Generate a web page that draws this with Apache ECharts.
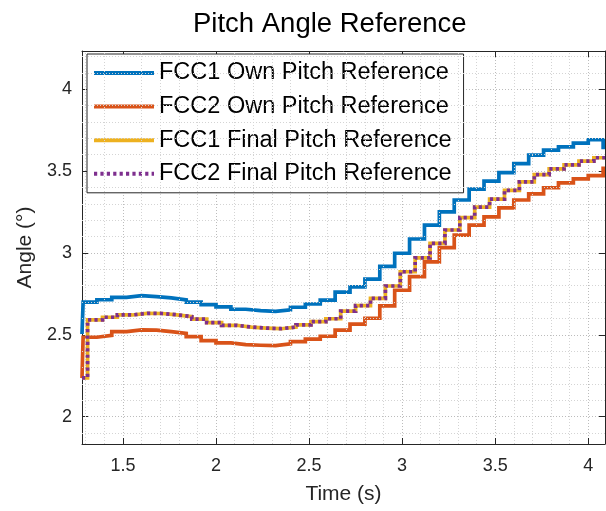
<!DOCTYPE html>
<html>
<head>
<meta charset="utf-8">
<script src="https://cdn.jsdelivr.net/npm/echarts@6/dist/echarts.min.js"></script>
<style>
html,body{margin:0;padding:0;background:#fff;}
#c{width:606px;height:511px;}
</style>
</head>
<body>
<div id="c"></div>
<script>
// ---- data ----
const ownTimes = [1.28, 1.286, 1.36, 1.44, 1.52, 1.60, 1.68, 1.76, 1.84, 1.92, 2.00, 2.08, 2.16, 2.24, 2.32, 2.40, 2.48, 2.56, 2.64, 2.72, 2.80, 2.88, 2.96, 3.04, 3.12, 3.20, 3.28, 3.36, 3.44, 3.52, 3.60, 3.68, 3.76, 3.84, 3.92, 4.00, 4.08, 4.09];
const fcc1OwnPitch = [2.505, 2.700, 2.714, 2.729, 2.739, 2.733, 2.725, 2.713, 2.700, 2.684, 2.670, 2.656, 2.647, 2.643, 2.652, 2.668, 2.688, 2.712, 2.760, 2.792, 2.840, 2.918, 2.998, 3.085, 3.170, 3.250, 3.323, 3.390, 3.438, 3.490, 3.545, 3.597, 3.628, 3.648, 3.671, 3.691, 3.645, 3.645];
const fcc2OwnPitch = [2.235, 2.485, 2.497, 2.519, 2.530, 2.528, 2.519, 2.509, 2.489, 2.464, 2.450, 2.440, 2.436, 2.434, 2.444, 2.458, 2.473, 2.491, 2.528, 2.565, 2.601, 2.676, 2.772, 2.855, 2.945, 3.032, 3.109, 3.170, 3.220, 3.275, 3.323, 3.360, 3.398, 3.428, 3.452, 3.472, 3.516, 3.516];
const finalTimes = [1.28, 1.31, 1.39, 1.47, 1.55, 1.63, 1.71, 1.79, 1.87, 1.95, 2.03, 2.11, 2.19, 2.27, 2.35, 2.43, 2.51, 2.59, 2.67, 2.75, 2.83, 2.91, 2.99, 3.07, 3.15, 3.23, 3.31, 3.39, 3.47, 3.55, 3.63, 3.71, 3.79, 3.87, 3.95, 4.03, 4.09];
const fcc1FinalPitch = [2.237, 2.591, 2.607, 2.621, 2.631, 2.630, 2.622, 2.611, 2.595, 2.574, 2.558, 2.547, 2.541, 2.537, 2.547, 2.561, 2.580, 2.598, 2.644, 2.678, 2.722, 2.798, 2.885, 2.970, 3.058, 3.140, 3.216, 3.280, 3.329, 3.382, 3.434, 3.478, 3.513, 3.538, 3.561, 3.581, 3.581];
const fcc2FinalPitch = [2.237, 2.591, 2.607, 2.621, 2.631, 2.630, 2.622, 2.611, 2.595, 2.574, 2.558, 2.547, 2.541, 2.537, 2.547, 2.561, 2.580, 2.598, 2.644, 2.678, 2.722, 2.798, 2.885, 2.970, 3.058, 3.140, 3.216, 3.280, 3.329, 3.382, 3.434, 3.478, 3.513, 3.538, 3.561, 3.581, 3.581];
const seriesNames = ['FCC1 Own Pitch Reference', 'FCC2 Own Pitch Reference', 'FCC1 Final Pitch Reference', 'FCC2 Final Pitch Reference'];
const xTickLabels = ['1.5', '2', '2.5', '3', '3.5', '4'];
const yTickLabels = ['2', '2.5', '3', '3.5', '4'];

// ---- chart ----
const FONT = '"Liberation Sans", Arial, Helvetica, sans-serif';
const AX = '#262626';
const xMin = 1.28, xMax = 4.09, yMin = 1.833, yMax = 4.233;

const minorX = [], minorY = [];
for (let i = 13; i <= 40; i++) if (i % 5 !== 0) minorX.push(i / 10);
for (let i = 19; i <= 42; i++) if (i % 5 !== 0) minorY.push(i / 10);

const pairs = (ts, vs) => ts.map((t, i) => [t, vs[i]]);

function axisCommon(isX, main) {
  return {
    type: 'value',
    min: isX ? xMin : yMin,
    max: isX ? xMax : yMax,
    splitNumber: 5,
    axisLine: {show: true, onZero: false, lineStyle: {color: AX, width: 1}},
    axisTick: {show: true, inside: true, length: 6, lineStyle: {color: AX, width: 1}},
    axisLabel: main ? {
      show: true, fontSize: 18, color: AX, fontFamily: FONT,
      margin: isX ? 13 : 10,
      showMinLabel: false, showMaxLabel: false,
      formatter: v => {
        const s = String(+v.toFixed(2));
        return (isX ? xTickLabels : yTickLabels).indexOf(s) >= 0 ? s : '';
      }
    } : {show: false},
    splitLine: main ? {show: true, lineStyle: {color: '#bcbcbc', width: 1, type: [1, 2]}} : {show: false}
  };
}

const lineBase = (name, ts, vs, color, z, type) => ({
  type: 'line', name: name, step: 'end', symbol: 'none', showSymbol: false,
  clip: true, z: z, silent: true,
  data: pairs(ts, vs),
  lineStyle: {color: color, width: 3.7, type: type || 'solid', join: 'miter', cap: 'butt'},
  itemStyle: {color: color},
  emphasis: {disabled: true}
});

const chart = echarts.init(document.getElementById('c'), null, {renderer: 'canvas'});
chart.setOption({
  animation: false,
  backgroundColor: '#fff',
  textStyle: {fontFamily: FONT},
  title: {
    text: 'Pitch Angle Reference', left: 188, top: 5,
    textStyle: {fontSize: 27.5, fontWeight: 'normal', color: '#000', fontFamily: FONT}
  },
  grid: {left: 82, top: 51, width: 523, height: 393, containLabel: false, outerBoundsMode: 'none'},
  legend: {
    orient: 'vertical', left: 87, top: 54,
    padding: [7, 12, 7, 5],
    itemWidth: 60, itemHeight: 24, itemGap: 9.6,
    backgroundColor: '#fff', borderColor: AX, borderWidth: 1, borderRadius: 0,
    textStyle: {fontSize: 23.5, color: '#000', fontFamily: FONT},
    lineStyle: {width: 4},
    itemStyle: {color: 'rgba(0,0,0,0)', borderColor: 'rgba(0,0,0,0)', borderWidth: 0},
    selectedMode: false,
    data: seriesNames
  },
  xAxis: [
    Object.assign(axisCommon(true, true), {position: 'bottom', name: 'Time (s)', nameLocation: 'middle', nameGap: 40,
      nameTextStyle: {fontSize: 21, color: AX, fontFamily: FONT}}),
    Object.assign(axisCommon(true, false), {position: 'top'})
  ],
  yAxis: [
    Object.assign(axisCommon(false, true), {position: 'left', name: 'Angle (°)', nameLocation: 'middle', nameGap: 40,
      nameTextStyle: {fontSize: 21, color: AX, fontFamily: FONT}}),
    Object.assign(axisCommon(false, false), {position: 'right'})
  ],
  series: [
    {
      type: 'line', data: [], z: 1, silent: true, symbol: 'none',
      markLine: {
        silent: true, symbol: ['none', 'none'], animation: false,
        label: {show: false},
        emphasis: {disabled: true},
        lineStyle: {color: '#d4d4d4', width: 1, type: [1, 2]},
        data: minorX.map(v => ({xAxis: v})).concat(minorY.map(v => ({yAxis: v})))
      }
    },
    lineBase(seriesNames[0], ownTimes, fcc1OwnPitch, '#0072BD', 3),
    lineBase(seriesNames[1], ownTimes, fcc2OwnPitch, '#D95319', 4),
    lineBase(seriesNames[2], finalTimes, fcc1FinalPitch, '#EDB120', 5),
    lineBase(seriesNames[3], finalTimes, fcc2FinalPitch, '#7E2F8E', 6, [3.2, 3.2])
  ]
});
</script>
</body>
</html>
